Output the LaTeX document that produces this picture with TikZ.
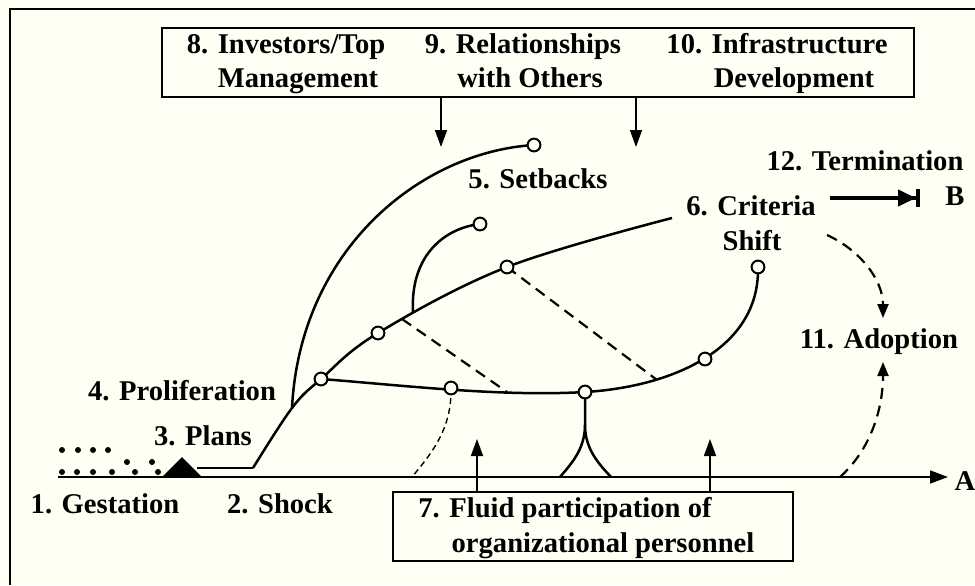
\documentclass[tikz,border=0pt]{standalone}
\usepackage{fontspec}
\setmainfont{Liberation Serif}
\usetikzlibrary{arrows.meta}
\definecolor{paper}{RGB}{255,255,244}

\begin{document}
\begin{tikzpicture}[x=0.5pt,y=-0.5pt,
  lbl/.style={font=\fontsize{14.3}{16}\selectfont\bfseries,inner sep=0pt,anchor=base},
  stage/.style={circle,draw,fill=paper,line width=1pt,minimum size=6.4pt,inner sep=0pt},
  track/.style={line width=1.25pt},
  lag/.style={line width=1.1pt,dash pattern=on 5.5pt off 3.5pt},
  thinlag/.style={line width=0.7pt,dash pattern=on 3pt off 2pt},
  seed/.style={circle,fill,inner sep=0pt,minimum size=3pt},
  panel/.style={draw,line width=1.2pt,fill=paper,inner sep=0pt},
  push/.style={line width=0.85pt,-{Triangle[length=8.5pt,width=6pt]}},
  lagtip/.style={-{Triangle[length=7pt,width=5.5pt]}}]
\path[fill=paper,use as bounding box] (0,0) rectangle (975,585);
\draw[line width=1pt] (10,585) |- (975,9);

\coordinate (t0) at (58,477); \coordinate (tA) at (948,477);
\draw[line width=0.85pt,-{Triangle[length=9pt,width=6.5pt]}] (t0) -- (tA);
\foreach \x in {62,77,93,112,135,158} \node[seed] (gb\x) at (\x,472) {};
\foreach \x in {62,78,93,108} \node[seed] (gt\x) at (\x,450) {};
\foreach \x in {127,152} \node[seed] (gm\x) at (\x,462) {};
\fill (162,477) -- (182,457) -- (202,477) -- cycle;

\coordinate (p0) at (197,468); \coordinate (shock) at (253,468);
\coordinate (sb) at (292,408); \coordinate (c1) at (321,379);
\coordinate (c2) at (378,333); \coordinate (dl) at (402,319);
\coordinate (sm) at (413,312); \coordinate (c3) at (507,267);
\coordinate (cend) at (672,218); \coordinate (c4) at (451,388);
\coordinate (ql) at (507,392); \coordinate (c5) at (585,392);
\coordinate (qr) at (657,380); \coordinate (c6) at (705,359);
\coordinate (c7) at (758,267); \coordinate (cs) at (534,145);
\coordinate (cb) at (480,224); \coordinate (fork) at (585,425);
\coordinate (fl) at (560,477); \coordinate (fr) at (611,477);
\coordinate (drop) at (412,477);

\draw[line width=0.9pt] (p0) -- (shock);
\draw[track] plot[smooth,tension=0.6] coordinates {(shock) (sb) (c1) (c2) (c3) (cend)};
\draw[track] (sb) .. controls (300,250) and (420,152) .. (cs);
\draw[track] (sm) .. controls (410,255) and (445,228) .. (cb);
\draw[track] (c1) .. controls (400,385) and (500,397) .. (c5)
  .. controls (670,387) and (760,350) .. (c7);
\draw[track] (c5) -- (fork) .. controls (585,450) and (570,465) .. (fl);
\draw[track] (fork) .. controls (585,450) and (600,465) .. (fr);
\draw[thinlag] (c4) .. controls (452,430) and (430,455) .. (drop);
\draw[lag] (dl) -- (ql);
\draw[lag] (c3) -- (qr);
\foreach \p in {c1,c2,c3,c4,c5,c6,c7,cs,cb} \node[stage] (n\p) at (\p) {};

\coordinate (crit) at (827,235); \coordinate (adtop) at (883,318);
\coordinate (adbase) at (840,477); \coordinate (adbot) at (883,362);
\draw[lag,lagtip] (crit) .. controls (860,250) and (883,280) .. (adtop);
\draw[lag,lagtip] (adbase) .. controls (870,450) and (883,410) .. (adbot);
\coordinate (tm0) at (830,198); \coordinate (tm1) at (920,198);
\draw[line width=2pt,-{Triangle[length=9pt,width=8pt]Bar[width=9pt]}] (tm0) -- (tm1);

\node[panel,minimum width=376pt,minimum height=34.5pt] (top) at (538,62.5) {};
\coordinate (f8) at (441,147); \coordinate (f9) at (636,147);
\draw[push] (top.south -| f8) -- (f8);
\draw[push] (top.south -| f9) -- (f9);
\node[panel,minimum width=200pt,minimum height=34.5pt] (fluid) at (593,526.5) {};
\coordinate (u1) at (477,439); \coordinate (u2) at (710,439);
\draw[push] (fluid.north -| u1) -- (u1);
\draw[push] (fluid.north -| u2) -- (u2);

\node[lbl] (inv) at (286,53) {8. Investors/Top};
\node[lbl] (mgt) at (298,87) {Management};
\node[lbl] (rel) at (523,53) {9. Relationships};
\node[lbl] (oth) at (530,87) {with Others};
\node[lbl] (inf) at (777,53) {10. Infrastructure};
\node[lbl] (dev) at (794,87) {Development};
\node[lbl] (flu) at (565,517) {7. Fluid participation of};
\node[lbl] (org) at (603,552) {organizational personnel};
\node[lbl] (gest) at (105,513) {1. Gestation};
\node[lbl] (shk) at (280,513) {2. Shock};
\node[lbl] (pln) at (203,445) {3. Plans};
\node[lbl] (pro) at (182,400) {4. Proliferation};
\node[lbl] (set) at (538,188) {5. Setbacks};
\node[lbl] (cri) at (751,215) {6. Criteria};
\node[lbl] (shf) at (752,250) {Shift};
\node[lbl] (ter) at (865,170) {12. Termination};
\node[lbl] (lb) at (955,205) {B};
\node[lbl] (ado) at (879,348) {11. Adoption};
\node[lbl] (la) at (965,490) {A};
\end{tikzpicture}
\end{document}
